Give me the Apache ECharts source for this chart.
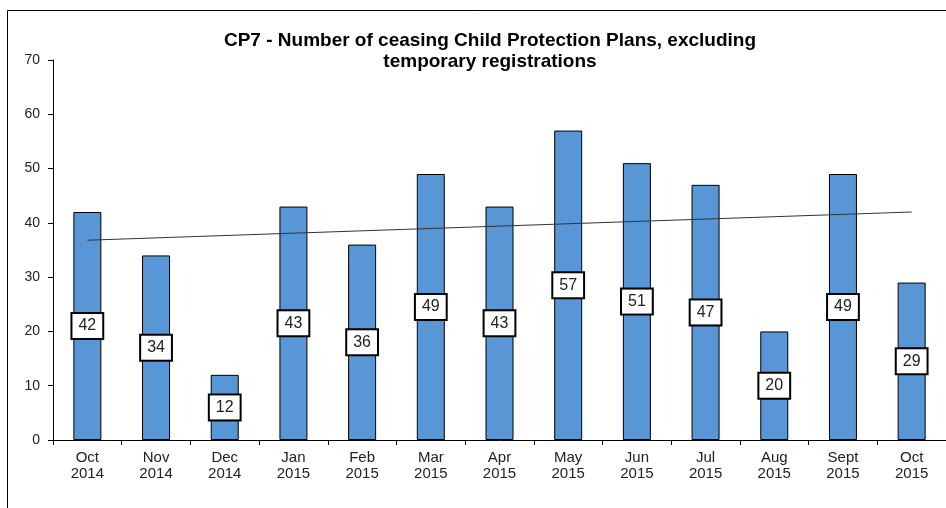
<!DOCTYPE html>
<html><head><meta charset="utf-8">
<script src="https://cdn.jsdelivr.net/npm/echarts@6/dist/echarts.min.js"></script>
<style>html,body{margin:0;padding:0;background:#fff}#c{width:946px;height:508px}</style>
</head><body><div id="c"></div>
<script>
const categories = ['Oct\n2014','Nov\n2014','Dec\n2014','Jan\n2015','Feb\n2015','Mar\n2015','Apr\n2015','May\n2015','Jun\n2015','Jul\n2015','Aug\n2015','Sept\n2015','Oct\n2015'];
const values = [42,34,12,43,36,49,43,57,51,47,20,49,29];
const trendEnds = [36.8, 42.0];
const yTicks = {min:0, max:70, interval:10};

const chart = echarts.init(document.getElementById('c'), null, {renderer:'canvas'});
chart.setOption({
  animation:false,
  textStyle:{fontFamily:'Liberation Sans, Arial, sans-serif'},
  title:{
    text:'CP7 - Number of ceasing Child Protection Plans, excluding\ntemporary registrations',
    left:485, top:25, textAlign:'center',
    textStyle:{fontSize:19, fontWeight:'bold', color:'#000', lineHeight:21, fontFamily:'Liberation Sans, Arial, sans-serif'}
  },
  graphic:[{type:'rect', shape:{x:7.5,y:10.5,width:960,height:520}, style:{fill:null, stroke:'#000', lineWidth:1}, silent:true}],
  grid:{left:53, top:60, width:903.5, height:380, containLabel:false},
  xAxis:{
    type:'category', data:categories,
    axisLine:{lineStyle:{color:'#000', width:1}},
    axisTick:{show:true, length:5, lineStyle:{color:'#000'}, alignWithLabel:false},
    axisLabel:{color:'#222', fontSize:15, lineHeight:16, margin:10, interval:0}
  },
  yAxis:{
    type:'value', min:yTicks.min, max:yTicks.max, interval:yTicks.interval,
    axisLine:{show:true, lineStyle:{color:'#000', width:1}},
    axisTick:{show:true, length:5, lineStyle:{color:'#000'}},
    splitLine:{show:false},
    axisLabel:{color:'#222', fontSize:14, margin:13}
  },
  series:[{
    type:'bar', data:values, barWidth:28,
    itemStyle:{color:'#5896D6', borderColor:'#000', borderWidth:1},
    label:{show:true, position:'inside', color:'#222', fontSize:16, lineHeight:19,
      backgroundColor:'#fff', borderColor:'#000', borderWidth:2, padding:[3,6,2,6]},
    markLine:{
      silent:true, symbol:['none','none'], label:{show:false},
      lineStyle:{color:'#333', width:1, type:'solid'},
      data:[[{coord:[categories[0], trendEnds[0]]},{coord:[categories[categories.length-1], trendEnds[1]]}]]
    }
  }]
});
</script></body></html>
